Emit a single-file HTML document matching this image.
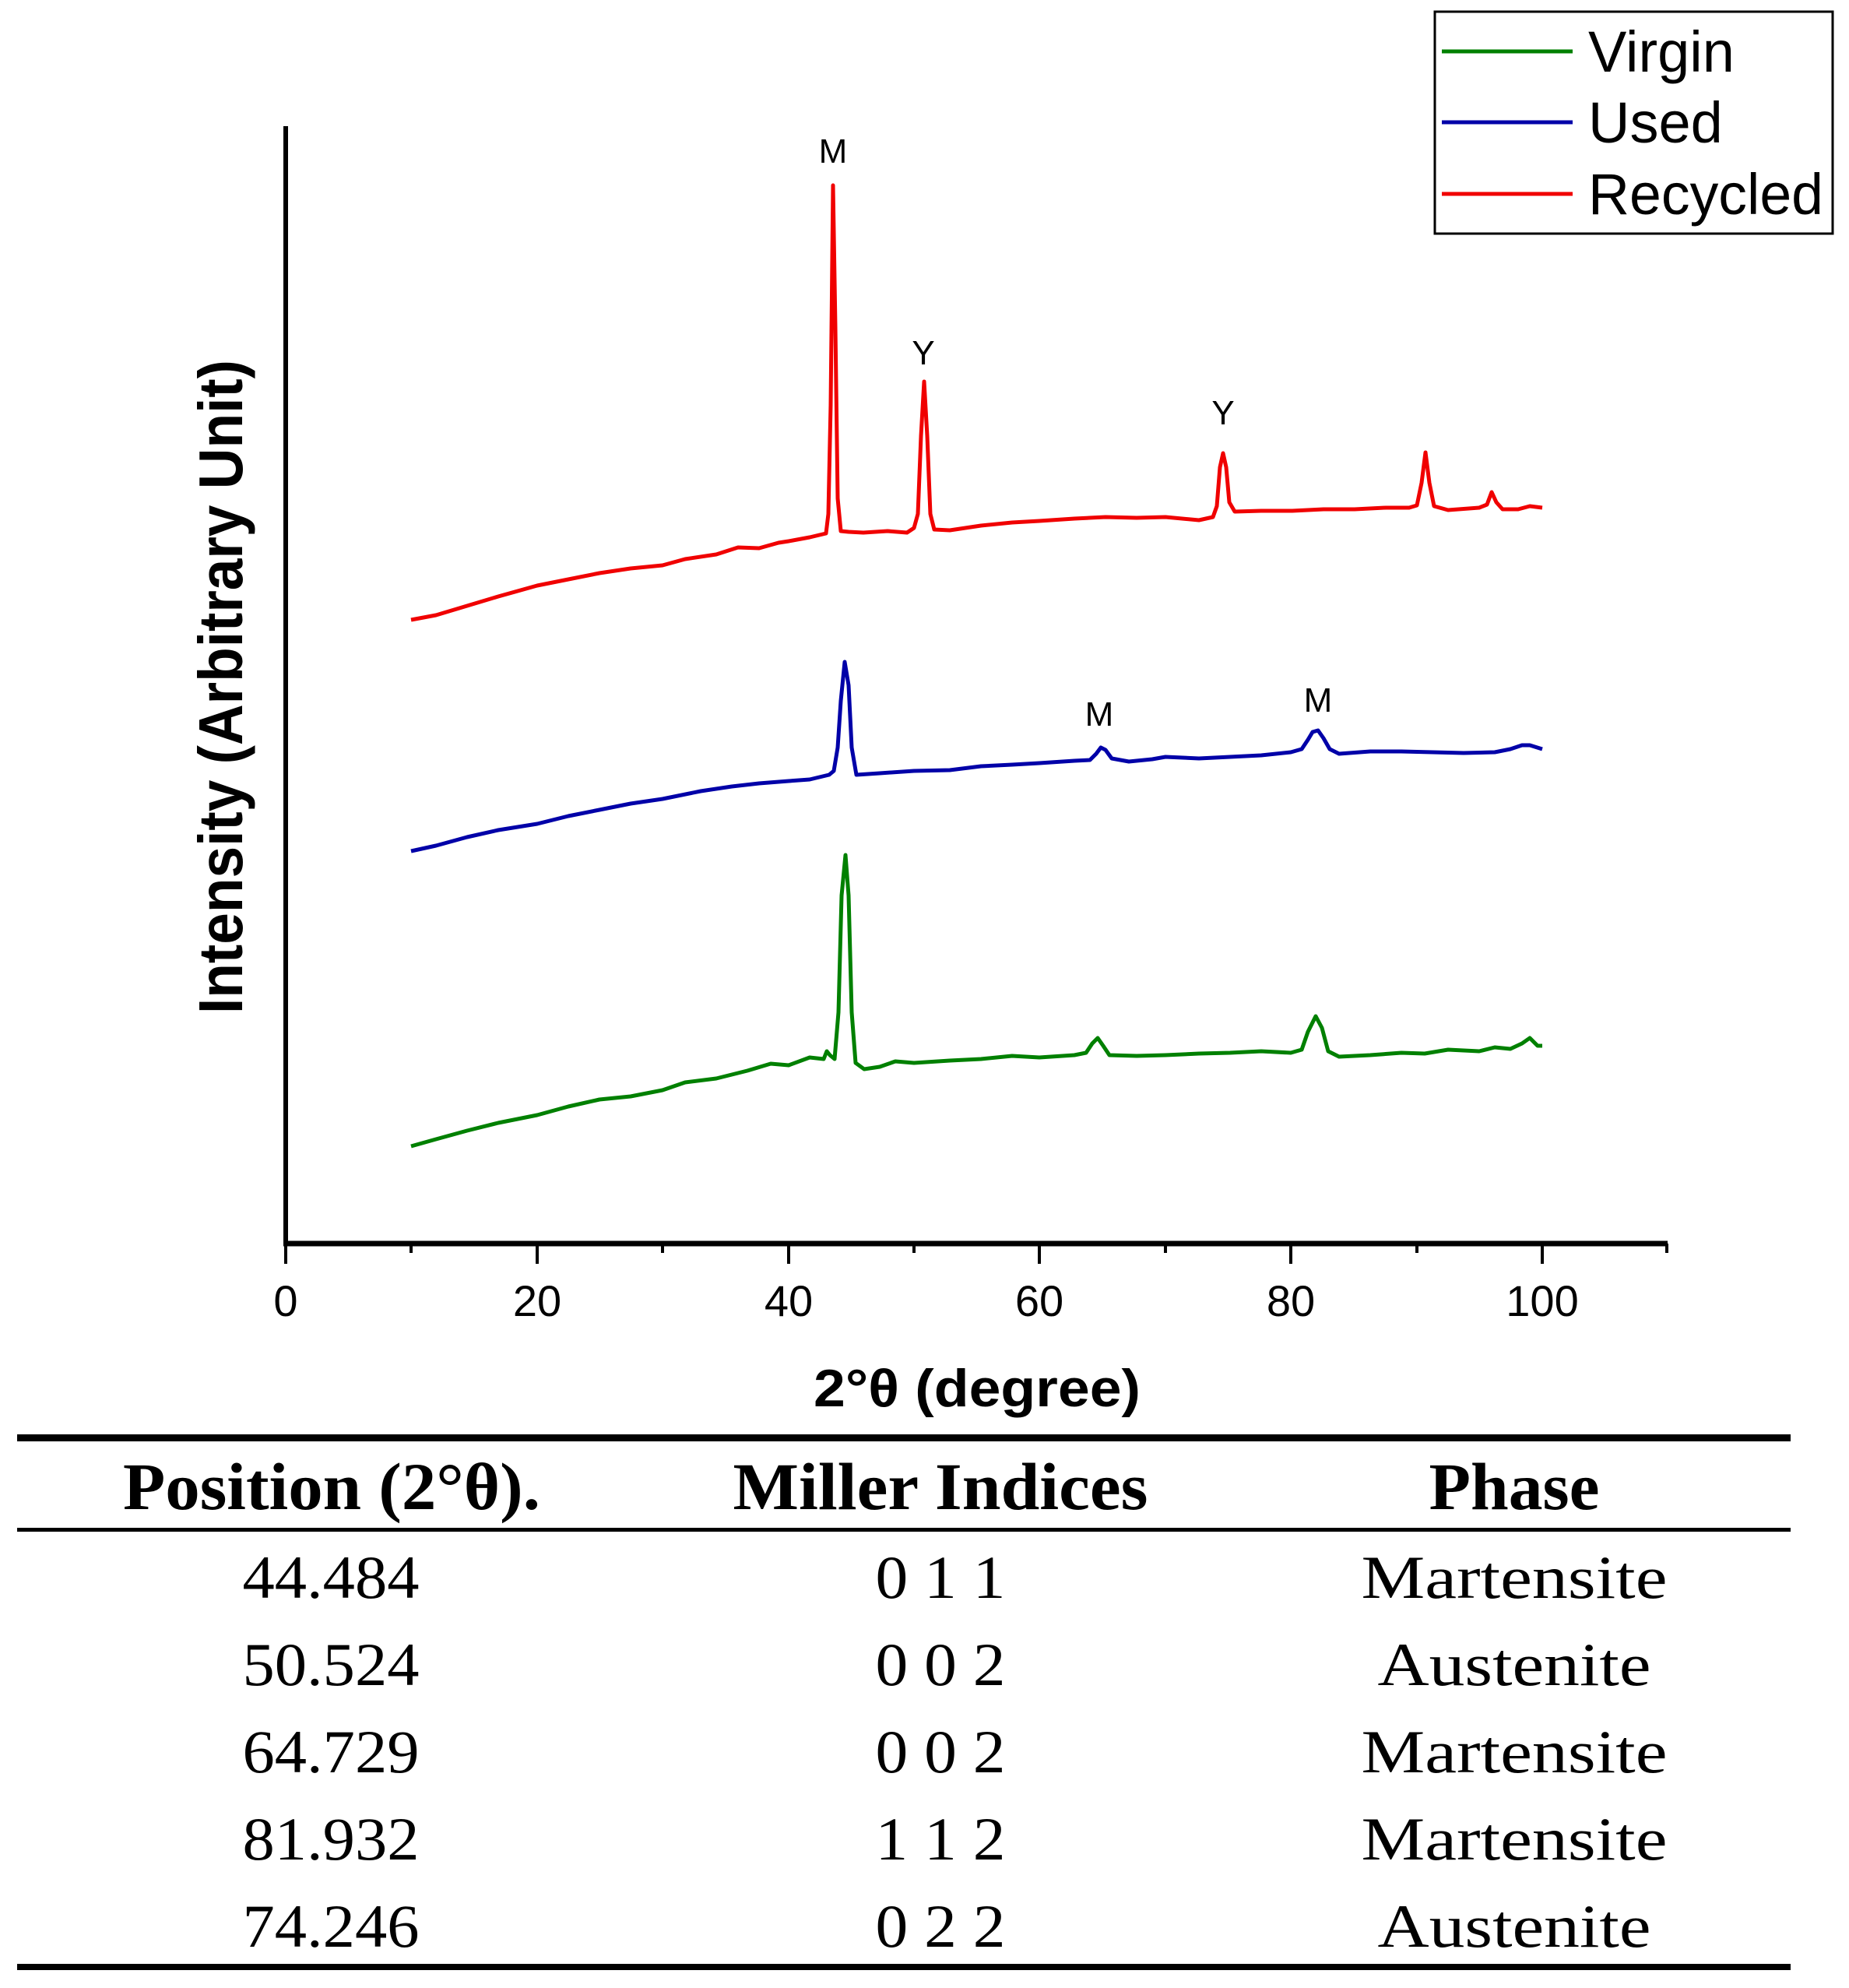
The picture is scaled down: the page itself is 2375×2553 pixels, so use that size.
<!DOCTYPE html>
<html><head><meta charset="utf-8"><style>
html,body{margin:0;padding:0;background:#fff;}
svg{display:block;}
</style></head><body>
<svg width="2375" height="2553" viewBox="0 0 2375 2553" xmlns="http://www.w3.org/2000/svg">
<rect width="2375" height="2553" fill="#fff"/>
<!-- axes -->
<line x1="367" y1="162" x2="367" y2="1600" stroke="#000" stroke-width="6"/>
<line x1="364" y1="1597" x2="2142" y2="1597" stroke="#000" stroke-width="7"/>
<g stroke="#000" stroke-width="4">
<line x1="367" y1="1597" x2="367" y2="1623"/>
<line x1="528" y1="1597" x2="528" y2="1609"/>
<line x1="690" y1="1597" x2="690" y2="1623"/>
<line x1="851" y1="1597" x2="851" y2="1609"/>
<line x1="1013" y1="1597" x2="1013" y2="1623"/>
<line x1="1174" y1="1597" x2="1174" y2="1609"/>
<line x1="1335" y1="1597" x2="1335" y2="1623"/>
<line x1="1497" y1="1597" x2="1497" y2="1609"/>
<line x1="1658" y1="1597" x2="1658" y2="1623"/>
<line x1="1820" y1="1597" x2="1820" y2="1609"/>
<line x1="1981" y1="1597" x2="1981" y2="1623"/>
<line x1="2141" y1="1597" x2="2141" y2="1609"/>
</g>
<g font-family="Liberation Sans, sans-serif" font-size="56" text-anchor="middle" fill="#000">
<text x="367" y="1690">0</text>
<text x="690" y="1690">20</text>
<text x="1013" y="1690">40</text>
<text x="1335" y="1690">60</text>
<text x="1658" y="1690">80</text>
<text x="1981" y="1690">100</text>
</g>
<text x="1255" y="1806" font-family="Liberation Sans, sans-serif" font-weight="bold" font-size="68" text-anchor="middle" textLength="420" lengthAdjust="spacingAndGlyphs">2°θ (degree)</text>
<text transform="translate(311,882) rotate(-90)" font-family="Liberation Sans, sans-serif" font-weight="bold" font-size="80" text-anchor="middle" textLength="840" lengthAdjust="spacingAndGlyphs">Intensity (Arbitrary Unit)</text>

<!-- series -->
<g fill="none" stroke-width="5" stroke-linejoin="round">
<polyline stroke="#f00000" points="528,796 560,790 600,778 640,766 690,752 730,744 770,736 810,730 851,726 880,718 920,712 948,703 975,704 1000,697 1013,695 1040,690 1061,685 1064,660 1067,520 1070,238 1073,420 1076,640 1080,682 1090,683 1109,684 1140,682 1165,684 1174,678 1179,660 1183,560 1187,490 1191,560 1195,660 1200,680 1220,681 1260,675 1300,671 1335,669 1380,666 1420,664 1460,665 1497,664 1540,668 1558,664 1563,650 1567,600 1571,582 1575,600 1579,645 1586,657 1620,656 1660,656 1700,654 1740,654 1780,652 1810,652 1820,649 1826,620 1831,581 1836,620 1842,650 1860,655 1900,652 1910,648 1916,632 1922,645 1930,654 1950,654 1965,650 1981,652"/>
<polyline stroke="#0000a8" points="528,1093 560,1086 600,1075 640,1066 690,1058 730,1048 770,1040 810,1032 851,1026 900,1016 940,1010 975,1006 1013,1003 1040,1001 1065,995 1071,990 1076,960 1080,900 1085,850 1090,880 1094,960 1100,995 1130,993 1174,990 1220,989 1260,984 1300,982 1335,980 1380,977 1400,976 1408,968 1414,960 1420,963 1428,974 1450,978 1480,975 1497,972 1540,974 1580,972 1620,970 1658,966 1672,962 1680,950 1686,940 1693,938 1700,948 1708,962 1720,968 1760,965 1800,965 1840,966 1880,967 1920,966 1940,962 1955,957 1965,957 1981,962"/>
<polyline stroke="#008000" points="528,1472 560,1463 600,1452 640,1442 690,1432 730,1421 770,1412 810,1408 851,1400 880,1390 920,1385 960,1375 990,1366 1013,1368 1040,1358 1058,1360 1062,1350 1066,1355 1072,1360 1077,1300 1081,1150 1086,1098 1090,1150 1094,1300 1099,1365 1110,1373 1130,1370 1150,1363 1174,1365 1220,1362 1260,1360 1300,1356 1335,1358 1380,1355 1395,1352 1403,1340 1410,1333 1417,1343 1425,1355 1460,1356 1497,1355 1540,1353 1580,1352 1620,1350 1658,1352 1672,1348 1680,1325 1690,1305 1698,1320 1706,1350 1720,1357 1760,1355 1800,1352 1830,1353 1860,1348 1900,1350 1920,1345 1940,1347 1955,1340 1965,1333 1975,1343 1981,1343"/>
</g>
<g font-family="Liberation Sans, sans-serif" font-size="44" text-anchor="middle" fill="#000">
<text x="1070" y="209">M</text>
<text x="1186" y="468">Y</text>
<text x="1571" y="545">Y</text>
<text x="1412" y="932">M</text>
<text x="1693" y="914">M</text>
</g>

<!-- legend -->
<rect x="1843" y="15" width="511" height="285" fill="#fff" stroke="#000" stroke-width="3"/>
<line x1="1852" y1="66" x2="2020" y2="66" stroke="#008000" stroke-width="5"/>
<line x1="1852" y1="157" x2="2020" y2="157" stroke="#0000a8" stroke-width="5"/>
<line x1="1852" y1="249" x2="2020" y2="249" stroke="#f00000" stroke-width="5"/>
<g font-family="Liberation Sans, sans-serif" font-size="74" fill="#000">
<text x="2040" y="92">Virgin</text>
<text x="2040" y="183">Used</text>
<text x="2040" y="275" textLength="302" lengthAdjust="spacingAndGlyphs">Recycled</text>
</g>

<!-- table -->
<rect x="22" y="1842" width="2278" height="9" fill="#000"/>
<rect x="22" y="1962" width="2278" height="5" fill="#000"/>
<rect x="22" y="2522" width="2278" height="8" fill="#000"/>
<g font-family="Liberation Serif, serif" font-weight="bold" font-size="86" text-anchor="middle" fill="#000">
<text x="426" y="1938" textLength="536" lengthAdjust="spacingAndGlyphs">Position (2°θ).</text>
<text x="1208" y="1938" textLength="533" lengthAdjust="spacingAndGlyphs">Miller Indices</text>
<text x="1945" y="1938" textLength="219" lengthAdjust="spacingAndGlyphs">Phase</text>
</g>
<g font-family="Liberation Serif, serif" font-size="78" text-anchor="middle" fill="#000">
<text x="425" y="2052" textLength="227" lengthAdjust="spacingAndGlyphs">44.484</text>
<text x="425" y="2164" textLength="227" lengthAdjust="spacingAndGlyphs">50.524</text>
<text x="425" y="2276" textLength="227" lengthAdjust="spacingAndGlyphs">64.729</text>
<text x="425" y="2388" textLength="227" lengthAdjust="spacingAndGlyphs">81.932</text>
<text x="425" y="2500" textLength="227" lengthAdjust="spacingAndGlyphs">74.246</text>
<text x="1208" y="2052" textLength="167" lengthAdjust="spacingAndGlyphs">0 1 1</text>
<text x="1208" y="2164" textLength="167" lengthAdjust="spacingAndGlyphs">0 0 2</text>
<text x="1208" y="2276" textLength="167" lengthAdjust="spacingAndGlyphs">0 0 2</text>
<text x="1208" y="2388" textLength="167" lengthAdjust="spacingAndGlyphs">1 1 2</text>
<text x="1208" y="2500" textLength="167" lengthAdjust="spacingAndGlyphs">0 2 2</text>
<text x="1945" y="2052" textLength="393" lengthAdjust="spacingAndGlyphs">Martensite</text>
<text x="1945" y="2164" textLength="351" lengthAdjust="spacingAndGlyphs">Austenite</text>
<text x="1945" y="2276" textLength="393" lengthAdjust="spacingAndGlyphs">Martensite</text>
<text x="1945" y="2388" textLength="393" lengthAdjust="spacingAndGlyphs">Martensite</text>
<text x="1945" y="2500" textLength="351" lengthAdjust="spacingAndGlyphs">Austenite</text>
</g>
</svg>
</body></html>
